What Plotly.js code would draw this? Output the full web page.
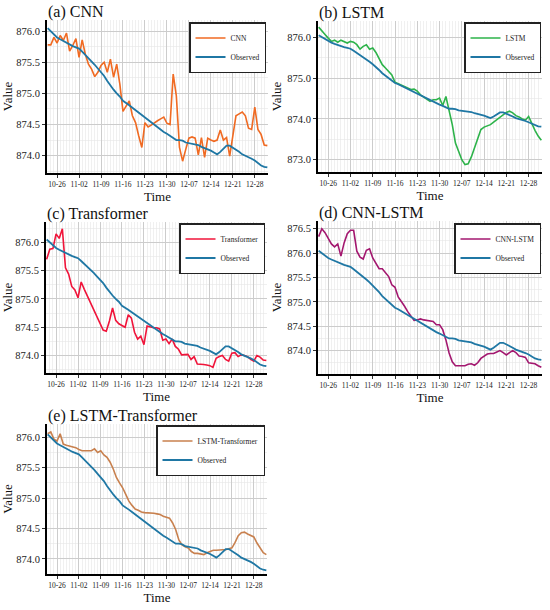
<!DOCTYPE html>
<html><head><meta charset="utf-8">
<script src="https://cdn.plot.ly/plotly-3.0.1.min.js"></script>
<style>html,body{margin:0;padding:0;background:#fff}</style>
</head><body><div id="chart" style="width:550px;height:610px"></div>
<script>
const dates = ['2023-10-23','2023-10-24','2023-10-25','2023-10-26','2023-10-27','2023-10-28','2023-10-29','2023-10-30','2023-10-31',
'2023-11-01','2023-11-02','2023-11-03','2023-11-04','2023-11-05','2023-11-06','2023-11-07','2023-11-08','2023-11-09','2023-11-10',
'2023-11-11','2023-11-12','2023-11-13','2023-11-14','2023-11-15','2023-11-16','2023-11-17','2023-11-18','2023-11-19','2023-11-20',
'2023-11-21','2023-11-22','2023-11-23','2023-11-24','2023-11-25','2023-11-26','2023-11-27','2023-11-28','2023-11-29','2023-11-30',
'2023-12-01','2023-12-02','2023-12-03','2023-12-04','2023-12-05','2023-12-06','2023-12-07','2023-12-08','2023-12-09','2023-12-10',
'2023-12-11','2023-12-12','2023-12-13','2023-12-14','2023-12-15','2023-12-16','2023-12-17','2023-12-18','2023-12-19','2023-12-20',
'2023-12-21','2023-12-22','2023-12-23','2023-12-24','2023-12-25','2023-12-26','2023-12-27','2023-12-28','2023-12-29','2023-12-30',
'2023-12-31','2024-01-01'];

const observed = [876.05,876.00,875.95,875.90,875.87,875.84,875.81,875.78,875.76,875.74,
875.72,875.67,875.62,875.57,875.52,875.46,875.40,875.34,875.28,875.20,
875.12,875.06,875.00,874.95,874.88,874.85,874.81,874.77,874.73,874.69,
874.65,874.62,874.58,874.54,874.50,874.46,874.42,874.38,874.35,874.32,
874.28,874.25,874.25,874.24,874.21,874.20,874.20,874.19,874.17,874.14,
874.12,874.11,874.08,874.05,874.02,874.06,874.11,874.16,874.16,874.13,
874.10,874.06,874.02,874.00,873.98,873.95,873.92,873.88,873.84,873.82,873.81];

const cnn = [875.78,875.78,875.90,875.81,875.93,875.85,875.97,875.68,875.77,875.88,
875.58,875.86,875.63,875.47,875.39,875.27,875.34,875.45,875.50,875.34,
875.55,875.26,875.47,875.15,874.71,874.79,874.88,874.64,874.53,874.32,
874.13,874.53,874.46,874.49,874.53,874.56,874.59,874.62,874.52,874.50,
875.31,874.96,874.13,873.91,874.10,874.28,874.30,874.28,874.01,874.29,
873.97,874.28,874.25,874.23,874.25,874.41,874.25,874.29,873.99,874.29,
874.64,874.67,874.70,874.64,874.44,874.42,874.78,874.42,874.34,874.17,874.16];

const lstm = [876.25,876.17,876.07,875.98,875.90,875.93,875.88,875.93,875.90,875.86,
875.90,875.88,875.82,875.71,875.78,875.82,875.71,875.74,875.63,875.47,
875.33,875.25,875.17,875.08,874.90,874.86,874.82,874.78,874.76,874.72,
874.73,874.68,874.59,874.54,874.49,874.43,874.47,874.47,874.51,874.33,
874.55,874.23,873.86,873.41,873.20,873.00,872.88,872.90,873.07,873.29,
873.53,873.74,873.80,873.83,873.86,873.92,873.98,874.05,874.10,874.16,
874.19,874.15,874.08,874.05,874.00,873.97,874.06,873.88,873.72,873.58,873.48];

const transformer = [875.70,875.88,875.89,876.15,876.07,876.24,875.55,875.44,875.22,875.16,
875.02,875.30,875.17,875.05,874.93,874.81,874.69,874.58,874.45,874.43,
874.61,874.84,874.62,874.56,874.53,874.50,874.72,874.66,874.41,874.29,
874.34,874.19,874.52,874.50,874.49,874.49,874.47,874.27,874.29,874.21,
874.29,874.16,874.11,874.01,874.01,874.02,873.93,873.98,873.85,873.85,
873.84,873.83,873.82,873.79,873.95,873.98,874.00,873.93,873.90,874.04,
874.05,873.98,874.01,874.00,873.98,873.93,873.90,874.00,873.97,873.92,873.91];

const cnnLstm = [876.34,876.50,876.42,876.29,876.19,876.13,876.19,875.94,876.21,876.40,
876.47,876.47,876.04,875.92,875.88,876.06,876.09,875.90,875.80,875.68,
875.68,875.60,875.52,875.35,875.30,875.10,875.01,874.91,874.80,874.71,
874.62,874.63,874.65,874.63,874.62,874.62,874.60,874.53,874.53,874.43,
874.22,873.95,873.77,873.69,873.69,873.69,873.69,873.72,873.73,873.70,
873.75,873.84,873.89,873.93,873.94,873.94,873.97,874.00,873.96,873.91,
873.96,874.00,873.96,873.89,873.88,873.86,873.75,873.74,873.73,873.69,873.66];

const lstmTransformer = [876.06,876.09,875.97,875.94,876.06,875.89,875.87,875.86,875.85,875.83,
875.80,875.78,875.78,875.78,875.78,875.81,875.75,875.78,875.71,875.67,
875.59,875.48,875.34,875.25,875.17,875.06,874.95,874.88,874.82,874.80,
874.77,874.76,874.76,874.75,874.75,874.74,874.73,874.70,874.69,874.67,
874.59,874.48,874.31,874.23,874.20,874.18,874.12,874.09,874.09,874.08,
874.07,874.10,874.12,874.14,874.14,874.15,874.15,874.15,874.16,874.18,
874.27,874.38,874.43,874.44,874.41,874.38,874.36,874.26,874.18,874.10,874.07];

const modelNames = ['CNN','LSTM','Transformer','CNN-LSTM','LSTM-Transformer'];
const panelTitles = ['(a) CNN','(b) LSTM','(c) Transformer','(d) CNN-LSTM','(e) LSTM-Transformer'];
const modelSeries = [cnn, lstm, transformer, cnnLstm, lstmTransformer];
const modelColors = ['#F06A22','#2DB34A','#F0143A','#A3176F','#C8804E'];
const observedColor = '#1F77A4';

// layout geometry (px in a 550x610 page)
const W = 550, H = 610;
const boxes = [
  {l:47, r:268, t:20, b:173, yr:[873.72,876.18], dt:0.5, lg:[266,22]},
  {l:318, r:542, t:21, b:172, yr:[872.70,876.40], dt:1.0, lg:[541,22]},
  {l:46, r:267, t:222, b:373, yr:[873.69,876.36], dt:0.5, lg:[265,223]},
  {l:318, r:542, t:221, b:374, yr:[873.52,876.66], dt:0.5, lg:[541,223]},
  {l:47, r:267, t:424, b:574, yr:[873.75,876.22], dt:0.5, lg:[265,425]}
];

const serif = 'Liberation Serif, Times New Roman, serif';
const traces = [];
const layout = {
  width: W, height: H,
  margin: {l:0, r:0, t:0, b:0},
  paper_bgcolor: '#fff', plot_bgcolor: '#fff',
  font: {family: serif, color: '#111'},
  annotations: []
};

boxes.forEach((bx, i) => {
  const k = i === 0 ? '' : String(i + 1);
  const lg = i === 0 ? 'legend' : 'legend' + (i + 1);
  traces.push({x: dates, y: modelSeries[i], type: 'scatter', mode: 'lines', name: modelNames[i],
    line: {color: modelColors[i], width: 1.6}, xaxis: 'x' + k, yaxis: 'y' + k, legend: lg});
  traces.push({x: dates, y: observed, type: 'scatter', mode: 'lines', name: 'Observed',
    line: {color: observedColor, width: 1.8}, xaxis: 'x' + k, yaxis: 'y' + k, legend: lg});

  layout['xaxis' + k] = {
    domain: [bx.l / W, bx.r / W], anchor: 'y' + k, type: 'date',
    range: ['2023-10-22 19:00', '2024-01-01 05:00'],
    tick0: '2023-10-26', dtick: 7 * 86400000, tickformat: '%m-%d',
    showgrid: true, gridcolor: '#cccccc', gridwidth: 1,
    minor: {dtick: 86400000, showgrid: true, gridcolor: '#e6e6e6', gridwidth: 0.6},
    showline: true, linecolor: '#000', linewidth: 2,
    ticks: 'outside', ticklen: 3, tickcolor: '#333',
    tickfont: {family: serif, size: 7.5, color: '#222'},
    title: {text: 'Time', font: {family: serif, size: 13, color: '#111'}, standoff: 3},
    zeroline: false, fixedrange: true
  };
  layout['yaxis' + k] = {
    domain: [1 - bx.b / H, 1 - bx.t / H], anchor: 'x' + k,
    range: bx.yr, dtick: bx.dt, tickformat: '.1f',
    showgrid: true, gridcolor: '#cccccc', gridwidth: 1,
    minor: {dtick: bx.dt / 2, showgrid: true, gridcolor: '#e6e6e6', gridwidth: 0.6},
    showline: true, linecolor: '#000', linewidth: 2,
    ticks: 'outside', ticklen: 3, tickcolor: '#333',
    tickfont: {family: serif, size: 10.5, color: '#222'},
    title: {text: 'Value', font: {family: serif, size: 13, color: '#111'}, standoff: 3},
    zeroline: false, fixedrange: true
  };
  layout[lg] = {
    x: bx.lg[0] / W, y: 1 - bx.lg[1] / H, xanchor: 'right', yanchor: 'top',
    xref: 'paper', yref: 'paper',
    bgcolor: '#fff', bordercolor: '#222', borderwidth: 1.5,
    font: {family: serif, size: 7.5, color: '#222'},
    itemwidth: 30, tracegroupgap: 0
  };
  layout.annotations.push({
    text: panelTitles[i], xref: 'paper', yref: 'paper',
    x: bx.l / W - 0.002, y: 1 - (bx.t - 8) / H, xanchor: 'left', yanchor: 'middle',
    showarrow: false, font: {family: serif, size: 16, color: '#111'}
  });
});

Plotly.newPlot('chart', traces, layout, {displayModeBar: false, staticPlot: true});
</script>
</body></html>
